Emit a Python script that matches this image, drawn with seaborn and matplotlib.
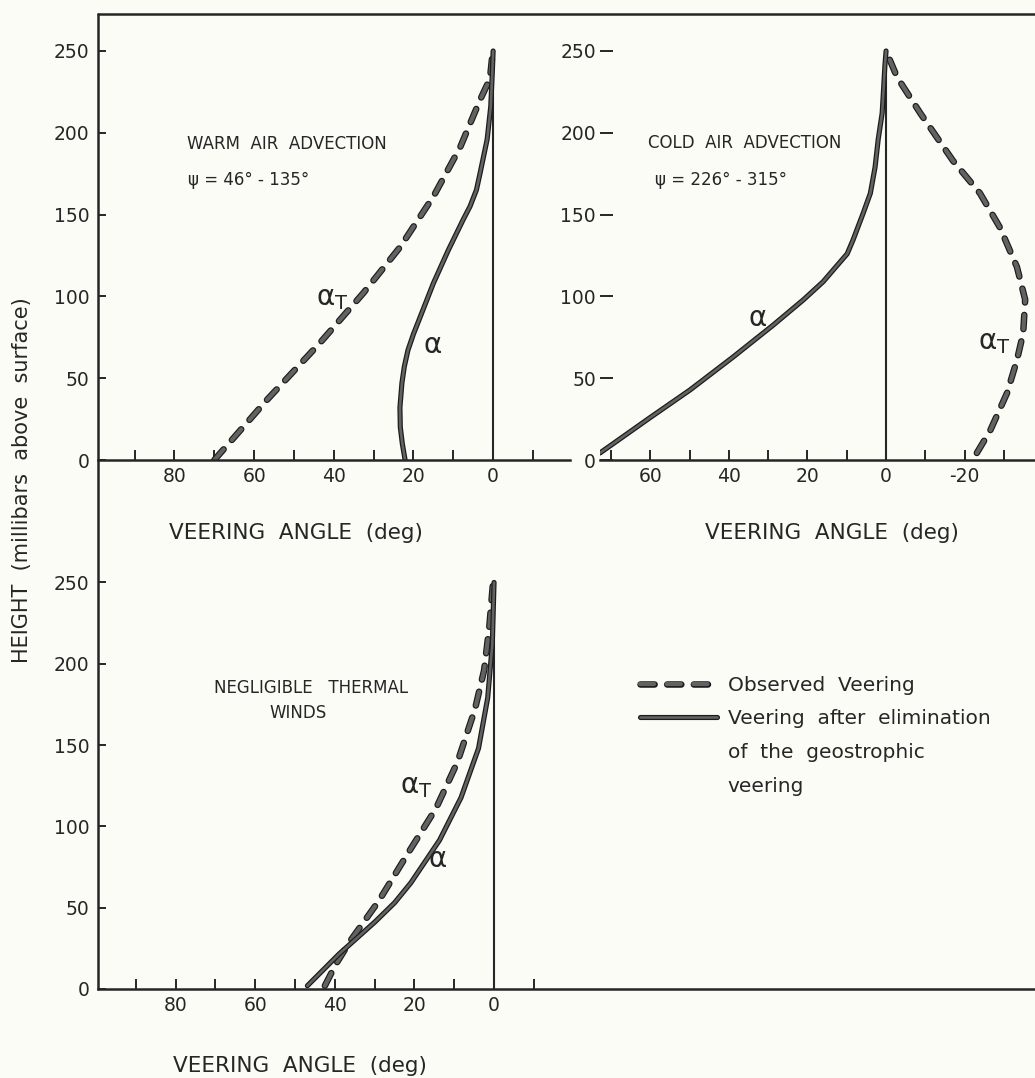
import matplotlib
matplotlib.use("Agg")
import matplotlib.pyplot as plt
import matplotlib.patheffects as pe
from matplotlib.lines import Line2D
import pandas as pd
import seaborn as sns

# ---------------------------------------------------------------------------
# Veering-angle profiles (deg) against height (mb above surface)
# ---------------------------------------------------------------------------
# Warm air advection, psi = 46-135 deg
warm_obs_angle = [70.0, 56.8, 43.5, 32.6, 23.4, 15.0, 8.3, 3.3, 0.8, 0.3]
warm_obs_height = [0, 36.7, 71.5, 102, 130, 161, 191, 220, 233, 245]
warm_corr_angle = [22.1, 22.8, 23.3, 23.4, 22.9, 22.3, 21.4, 20.0, 18.3, 15.0,
                   11.3, 7.5, 5.8, 4.2, 3.3, 1.5, 0.6, 0.2, 0.0]
warm_corr_height = [0, 10, 20, 32, 47, 57, 67, 77, 87.5, 108,
                    128, 147, 155, 165, 175, 196, 216, 237, 250]

# Cold air advection, psi = 226-315 deg
cold_obs_angle = [-23.1, -26.5, -30.8, -33.3, -34.9, -35.4, -33.3, -29.0,
                  -23.9, -17.0, -8.7, -2.8, 0.0]
cold_obs_height = [4.3, 18, 41, 61, 77.6, 98, 118, 142, 163, 183, 212, 234, 250]
cold_corr_angle = [72.8, 60.0, 49.9, 38.9, 28.7, 21.0, 16.0, 13.5, 9.9, 8.4,
                   5.8, 4.0, 2.8, 2.0, 1.0, 0.7, 0.3, 0.0]
cold_corr_height = [4.3, 26, 42.8, 63, 82.5, 98, 109, 116, 126, 134.5,
                    151, 163, 179, 196, 212, 224, 241, 250]

# Negligible thermal winds
calm_obs_angle = [42.5, 39.8, 36.0, 29.0, 21.8, 14.6, 9.2, 4.8, 2.5, 1.2, 0.3]
calm_obs_height = [2, 15, 30, 54, 82.8, 111, 139.5, 172, 196, 222.5, 248.7]
calm_corr_angle = [46.9, 38.9, 29.9, 25.0, 20.9, 13.7, 8.3, 3.9, 1.6, 0.45, 0.0]
calm_corr_height = [2, 21.6, 41.3, 53, 65.3, 91.5, 117.7, 148, 179, 211.6, 250]

height_ticks = [0, 50, 100, 150, 200, 250]
left_angle_ticks = [90, 80, 70, 60, 50, 40, 30, 20, 10, 0, -10]
left_angle_labels = ["", "80", "", "60", "", "40", "", "20", "", "0", ""]
cold_angle_ticks = [70, 60, 50, 40, 30, 20, 10, 0, -10, -20, -30]
cold_angle_labels = ["", "60", "", "40", "", "20", "", "0", "", "-20", ""]

legend_labels = ["Observed  Veering", "Veering  after  elimination",
                 "of  the  geostrophic", "veering"]

# ---------------------------------------------------------------------------
sns.set_theme(style="white")
BG = "#fcfcf6"
INK = "#262626"
plt.rcParams["font.family"] = ["DejaVu Sans"]
plt.rcParams["mathtext.default"] = "regular"
plt.rcParams["axes.facecolor"] = BG

W, H = 1035, 1078
fig = plt.figure(figsize=(W / 100, H / 100), dpi=100)
fig.patch.set_facecolor(BG)


def box(x0, x1, ytop, ybot):
    """Pixel box (from top-left) -> figure-fraction rectangle."""
    return [x0 / W, 1 - ybot / H, (x1 - x0) / W, (ybot - ytop) / H]


ax_warm = fig.add_axes(box(98, 570, 14, 460))
ax_cold = fig.add_axes(box(600, 1035, 14, 460))
ax_calm = fig.add_axes(box(98, 1035, 560, 989))

ax_warm.set_xlim(99.2, -19.3)
ax_warm.set_ylim(0, 272.6)
ax_cold.set_xlim(72.8, -37.9)
ax_cold.set_ylim(0, 272.6)
ax_calm.set_xlim(99.5, -135.9)
ax_calm.set_ylim(0, 263.8)

LINE_FILL = "#626262"
LINE_EDGE = "#1c1c1c"


def profile(ax, angle, height, dashed):
    df = pd.DataFrame({"angle": angle, "height": height})
    if dashed:
        sns.lineplot(data=df, x="angle", y="height", sort=False, estimator=None,
                     ax=ax, color=LINE_FILL, linewidth=3.0,
                     linestyle=(0, (3.4, 3.0)), dash_capstyle="round",
                     dash_joinstyle="round")
        edge = 4.7
    else:
        sns.lineplot(data=df, x="angle", y="height", sort=False, estimator=None,
                     ax=ax, color=LINE_FILL, linewidth=1.9,
                     solid_capstyle="round", solid_joinstyle="round")
        edge = 3.7
    line = ax.lines[-1]
    line.set_path_effects([pe.Stroke(linewidth=edge, foreground=LINE_EDGE),
                           pe.Normal()])
    return line


for ax in (ax_warm, ax_cold, ax_calm):
    ax.vlines(0, height_ticks[0], height_ticks[-1], color=INK, linewidth=1.5, zorder=1)

profile(ax_warm, warm_obs_angle, warm_obs_height, True)
profile(ax_warm, warm_corr_angle, warm_corr_height, False)
profile(ax_cold, cold_obs_angle, cold_obs_height, True)
profile(ax_cold, cold_corr_angle, cold_corr_height, False)
obs_line = profile(ax_calm, calm_obs_angle, calm_obs_height, True)
corr_line = profile(ax_calm, calm_corr_angle, calm_corr_height, False)

# Axes, ticks and spines
for ax in (ax_warm, ax_cold, ax_calm):
    for side in ("left", "right", "top"):
        ax.spines[side].set_visible(False)
    ax.spines["bottom"].set_color(INK)
    ax.spines["bottom"].set_linewidth(1.8)
    ax.set_ylabel("")
    ax.set_yticks(height_ticks)
    ax.set_yticklabels([str(t) for t in height_ticks])
    ax.tick_params(axis="x", direction="in", length=7, width=1.4, pad=5,
                   labelsize=13.5, colors=INK, bottom=True)
    ax.tick_params(axis="y", direction="in", length=6, width=1.4, pad=6,
                   labelsize=13.5, colors=INK, left=True)

for ax in (ax_warm, ax_calm):
    ax.set_xticks(left_angle_ticks)
    ax.set_xticklabels(left_angle_labels)

ax_cold.set_xticks(cold_angle_ticks)
ax_cold.set_xticklabels(cold_angle_labels)
ax_cold.tick_params(axis="y", length=9, pad=3)

label_kw = dict(fontsize=15.5, color=INK, va="center")
ax_warm.set_xlabel("VEERING  ANGLE  (deg)", **label_kw)
ax_warm.xaxis.set_label_coords(0.419, -0.164)
ax_cold.set_xlabel("VEERING  ANGLE  (deg)", **label_kw)
ax_cold.xaxis.set_label_coords(0.533, -0.164)
ax_calm.set_xlabel("VEERING  ANGLE  (deg)", **label_kw)
ax_calm.xaxis.set_label_coords(0.2156, -0.179)

fig.text(22 / W, 1 - 480 / H, "HEIGHT  (millibars  above  surface)",
         rotation=90, ha="center", va="center", fontsize=15, color=INK)

# Frame: top rule and the shared left axis line
fig.add_artist(Line2D([98 / W, 1.0], [1 - 14 / H, 1 - 14 / H],
                      color=INK, linewidth=1.8))
fig.add_artist(Line2D([98 / W, 98 / W], [1 - 14 / H, 1 - 989 / H],
                      color=INK, linewidth=1.8))

# Panel annotations
note_kw = dict(fontsize=12, color=INK, ha="left", va="center")
ax_warm.text(76.9, 193, "WARM  AIR  ADVECTION", **note_kw)
ax_warm.text(76.6, 171, "\u03c8 = 46\u00b0 - 135\u00b0", **note_kw)
ax_cold.text(60.6, 194, "COLD  AIR  ADVECTION", **note_kw)
ax_cold.text(58.8, 171, "\u03c8 = 226\u00b0 - 315\u00b0", **note_kw)
ax_calm.text(46, 185, "NEGLIGIBLE   THERMAL", fontsize=12, color=INK,
             ha="center", va="center")
ax_calm.text(49.2, 170, "WINDS", fontsize=12, color=INK, ha="center", va="center")

sym_kw = dict(fontsize=20, color=INK, ha="center", va="center")
ax_warm.text(40.5, 99, r"$\alpha_T$", **sym_kw)
ax_warm.text(15.3, 70, r"$\alpha$", **sym_kw)
ax_cold.text(32.8, 87, r"$\alpha$", **sym_kw)
ax_cold.text(-27.5, 72, r"$\alpha_T$", **sym_kw)
ax_calm.text(19.5, 125, r"$\alpha_T$", **sym_kw)
ax_calm.text(14.2, 80, r"$\alpha$", **sym_kw)

# Legend
blank = Line2D([], [], linestyle="none")
leg = ax_calm.legend([obs_line, corr_line, blank, blank], legend_labels,
                     loc="upper left", bbox_to_anchor=(640 / W, 1 - 676 / H),
                     bbox_transform=fig.transFigure, frameon=False,
                     fontsize=14.5, handlelength=3.8, handletextpad=0.55,
                     labelspacing=0.72, borderpad=0, borderaxespad=0)
for t in leg.get_texts():
    t.set_color(INK)

fig.savefig("out.png", dpi=100, facecolor=BG)
